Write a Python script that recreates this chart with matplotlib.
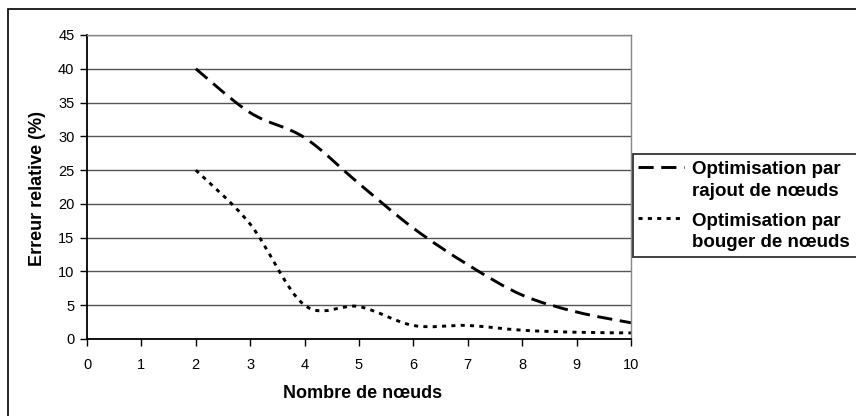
import numpy as np
import matplotlib
matplotlib.use('Agg')
import matplotlib.pyplot as plt
from matplotlib.path import Path
from matplotlib.patches import PathPatch, Rectangle
from matplotlib.lines import Line2D

plt.rcParams['font.family'] = ['Liberation Sans', 'DejaVu Sans']

# données
noeuds = [2, 3, 4, 5, 6, 7, 8, 9, 10]
rajout = [40, 33.5, 29.8, 23, 16.4, 11, 6.5, 4, 2.4]
bouger = [25, 17, 5, 4.8, 2, 2, 1.3, 1, 0.9]
labels = [['Optimisation par', 'rajout de nœuds'], ['Optimisation par', 'bouger de nœuds']]

W, H = 856, 416

def fx(px):
    return px / W

def fy(py):
    return 1 - py / H

def smooth_path(x, y):
    # courbe lissée façon Excel (bezier passant par les points)
    p = np.column_stack([x, y]).astype(float)
    ext = np.vstack([p[0], p, p[-1]])
    verts = [p[0]]
    codes = [Path.MOVETO]
    for i in range(len(p) - 1):
        c1 = ext[i + 1] + (ext[i + 2] - ext[i]) / 6
        c2 = ext[i + 2] - (ext[i + 3] - ext[i + 1]) / 6
        verts += [c1, c2, ext[i + 2]]
        codes += [Path.CURVE4] * 3
    return Path(verts, codes)

lw = 2.1
dash_long = (0, (5.2, 2.6))
dash_dot = (0, (1.4, 1.8))

fig = plt.figure(figsize=(8.56, 4.16), dpi=100)
fig.patches.append(Rectangle((fx(8), -0.1), 1.2, fy(9) + 0.1, transform=fig.transFigure,
                             fill=False, edgecolor='black', lw=1.2))

ax = fig.add_axes([fx(87), fy(339), 544 / W, 304 / H])
ax.set_xlim(0, 10)
ax.set_ylim(0, 45)
ax.set_xticks(range(0, 11))
ax.set_yticks(range(0, 46, 5))
ax.yaxis.grid(True, color='#555555', lw=1.0)
ax.set_axisbelow(True)
for s in ['top', 'right']:
    ax.spines[s].set_color('#888888')
    ax.spines[s].set_linewidth(1.0)
for s in ['left', 'bottom']:
    ax.spines[s].set_color('black')
    ax.spines[s].set_linewidth(1.3)
ax.tick_params(direction='out', length=5, width=1, labelsize=10.5, colors='black', pad=4)
ax.tick_params(axis='x', pad=9)

ax.add_patch(PathPatch(smooth_path(noeuds, rajout), fill=False, lw=lw, ls=dash_long,
                       edgecolor='black', capstyle='butt', clip_on=False))
ax.add_patch(PathPatch(smooth_path(noeuds, bouger), fill=False, lw=lw, ls=dash_dot,
                       edgecolor='black', capstyle='butt', clip_on=False))

fig.text(fx(363), fy(393), 'Nombre de nœuds', fontsize=13, fontweight='bold',
         ha='center', va='center')
fig.text(fx(38), fy(188), 'Erreur relative (%)', fontsize=13, fontweight='bold',
         ha='center', va='center', rotation=90)

# légende dessinée à la main (symbole aligné sur la 1re ligne)
fig.patches.append(Rectangle((fx(633), fy(257)), 0.5, fy(154) - fy(257), transform=fig.transFigure,
                             fill=True, facecolor='white', edgecolor='#333333', lw=1.3, zorder=3))
styles = [dash_long, dash_dot]
rows = [170, 221]
for lab, st, y0 in zip(labels, styles, rows):
    fig.lines.append(Line2D([fx(638), fx(684)], [fy(y0 - 3), fy(y0 - 3)], transform=fig.transFigure,
                            color='black', lw=lw, ls=st, zorder=4))
    for k, line in enumerate(lab):
        fig.text(fx(692), fy(y0 + 21 * k), line, fontsize=13.5, fontweight='bold',
                 ha='left', va='center', zorder=5)

fig.savefig('out.png', dpi=100)
